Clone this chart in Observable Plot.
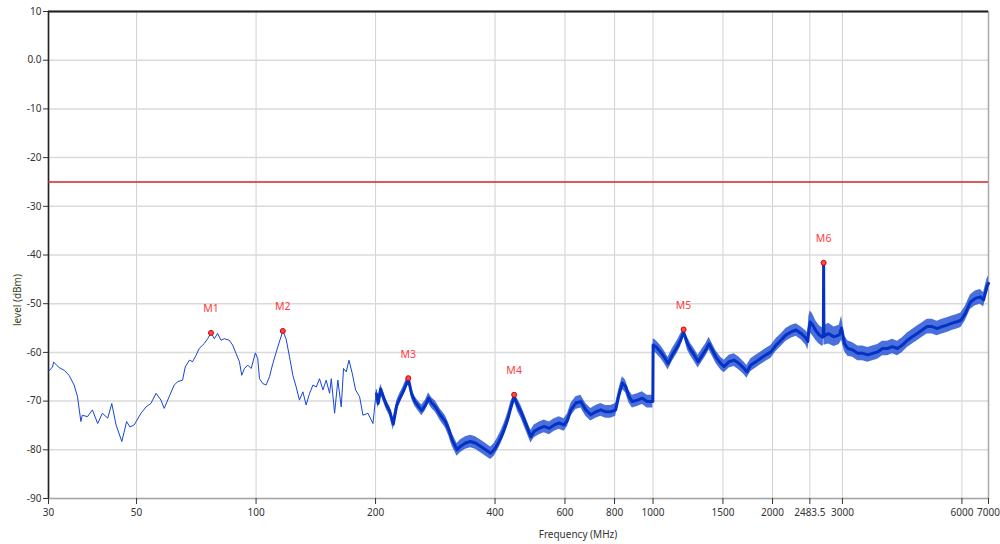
<!DOCTYPE html>
<html><head><meta charset="utf-8">
<script src="https://cdn.jsdelivr.net/npm/d3@7"></script>
<script src="https://cdn.jsdelivr.net/npm/@observablehq/plot@0.6"></script>
<style>
body{margin:0;background:#fff;}
#wrap{position:relative;width:1000px;height:544px;overflow:hidden;}
.lbl{position:absolute;font-family:"Noto Sans",sans-serif;font-size:10px;white-space:nowrap;}
</style></head>
<body><div id="wrap"></div>
<script>
// ---- data ----
const xTicks = [30, 50, 100, 200, 400, 600, 800, 1000, 1500, 2000, 2483.5, 3000, 6000, 7000];
const yTicks = [10, 0, -10, -20, -30, -40, -50, -60, -70, -80, -90];
const limitLevel = -25;

// thin trace 30–200 MHz
const traceFreq = [30,30.7,30.9,31.9,32.9,33.8,34.8,35.5,36.2,36.5,
  37.6,38.7,39.9,41.0,42.3,43.3,44.4,45.9,47.2,48.1,
  49.3,51.3,52.8,54.3,56.0,57.6,58.7,60.4,62.2,63.5,
  65.3,66.3,67.9,69.2,70.6,71.9,74.0,75.5,77.0,78.5,
  80.0,81.6,83.2,85.6,87.3,89.0,90.8,92.0,93.5,95.3,
  97.2,99.6,101.0,102.0,104.0,106.0,108.1,110.2,113.4,116.8,
  119.0,121.4,123.8,126.2,128.6,131.2,133.7,136.4,139.1,141.8,
  144.5,147.4,150.2,153.2,154.7,157.7,160.7,163.9,166.1,168.7,
  171.4,174.7,178.1,182.3,185.9,191.3,197.0,201];
const traceLevel = [-63.9,-63.0,-62.0,-63.1,-63.7,-64.7,-66.7,-69.1,-74.2,-72.9,
  -73.2,-71.8,-74.6,-72.5,-73.5,-70.5,-74.9,-78.3,-74.2,-75.3,
  -74.9,-72.5,-71.2,-70.5,-68.4,-69.8,-71.5,-69.1,-66.7,-66.0,
  -65.7,-63.0,-61.6,-61.9,-60.6,-59.2,-58.2,-57.2,-56.0,-57.2,
  -56.1,-57.5,-57.2,-57.5,-58.5,-60.2,-61.9,-64.7,-63.3,-62.6,
  -63.3,-60.1,-61.3,-65.4,-66.4,-66.7,-65.0,-62.3,-58.9,-55.6,
  -57.2,-60.9,-64.7,-67.1,-69.8,-68.1,-70.8,-68.4,-66.7,-67.1,
  -65.4,-67.7,-65.7,-68.4,-65.4,-72.5,-65.7,-71.2,-63.3,-64.0,
  -61.6,-64.3,-67.7,-69.1,-72.9,-72.5,-74.6,-67.7];

// noisy band 200–7000 MHz (low / high envelope of the noise)
const bandFreq = [201,203,206,209,213,217,221.6,226,230,235,
  239.5,242,246.5,251,256,261.5,267,272,277,283,
  291,300,306,312,321,327,337,347,357,368,
  379,390,398,405,413,421.5,430,438,446.8,455.6,
  465,474,483,492.5,502,517,532,548,564,580,
  597,609,621,639,658,677,697,717.5,738.6,760,
  782.5,805,821,837,853,870,887,913,940,967,
  999,1000.5,1016,1045,1066,1091,1119,1152,1174,1194,
  1221,1245,1269,1299,1332,1358,1384,1411,1439,1482,
  1511,1555,1601,1648,1697,1723,1764,1816,1870,1925,
  1982,2041,2101,2163,2227,2293,2361,2430,2454,2470,
  2489,2520,2570,2621,2674,2686,2690,2695,2712,2766,
  2860,2945,2985,3036,3095,3186,3279,3374,3473,3574,
  3679,3786,3896,4010,4127,4248,4372,4499,4631,4766,
  4905,5048,5196,5347,5503,5664,5829,5966,6121,6300,
  6484,6673,6804,6935,7000];
const bandLow = [-69.5,-71.5,-68.5,-70,-71.8,-73,-76,-72,-70.5,-69,
  -67.3,-66.3,-69.5,-71,-72,-73,-72,-70.5,-71.5,-72.3,
  -74,-75.5,-77.2,-79.3,-81.3,-80.6,-79.9,-79.6,-79.9,-80.6,
  -81.3,-82,-81.3,-80.3,-78.9,-77.2,-75.2,-72.8,-69.8,-72.1,
  -73.5,-75.2,-76.9,-78.6,-77.5,-76.9,-76.5,-76.9,-76.2,-75.8,
  -76.2,-75.2,-73.1,-71.7,-71.4,-73.1,-74.1,-73.5,-73.1,-73.5,
  -73.5,-73.1,-70,-67.6,-68.3,-70.4,-71.4,-71.1,-70.7,-71.4,
  -71.4,-59.8,-60.1,-61.2,-62.2,-63.6,-61.8,-60.1,-58.8,-56.4,
  -59.5,-60.8,-61.8,-63.2,-61.8,-60.8,-59.5,-60.8,-62.2,-63.6,
  -64.2,-63.2,-62.9,-63.6,-64.6,-65.3,-63.9,-63.2,-62.5,-61.8,
  -61.2,-59.8,-58.8,-57.7,-57.1,-56.7,-57.4,-58.6,-59.5,-58,
  -56,-56.5,-57.5,-58.3,-58.8,-58.5,-42.2,-58.5,-58.5,-58.3,
  -58.8,-58.4,-57.5,-59.8,-60.8,-61,-61.7,-61.7,-62,-61.7,
  -61.4,-60.7,-60.7,-60.3,-60.7,-60,-59,-58.3,-57.6,-56.9,
  -56.2,-56.2,-56.6,-56.2,-55.9,-55.5,-55.2,-54.9,-53.5,-51.2,
  -50.4,-50.1,-50.7,-48,-47.3];
const bandHigh = [-67.5,-69.5,-66.5,-68,-69.8,-71,-73.5,-70,-68.5,-67,
  -65.3,-64.8,-67.5,-69,-70,-70.8,-69.8,-68.3,-69.3,-70,
  -71.6,-73,-74.6,-76.7,-78.7,-78,-77.3,-77,-77.3,-78,
  -78.7,-79.4,-78.7,-77.7,-76.3,-74.6,-72.6,-70.2,-68.5,-69.5,
  -70.9,-72.6,-74.3,-76,-74.9,-74.3,-73.9,-74.3,-73.6,-73.2,
  -73.6,-72.6,-70.5,-69.1,-68.8,-70.5,-71.5,-70.9,-70.5,-70.9,
  -70.9,-70.5,-67.4,-65,-65.7,-67.8,-68.8,-68.5,-68.1,-68.8,
  -68.8,-57.2,-57.5,-58.6,-59.6,-61,-59.2,-57.5,-56.2,-55.3,
  -56.9,-58.2,-59.2,-60.6,-59.2,-58.2,-56.9,-58.2,-59.6,-61,
  -61.6,-60.6,-60.3,-61,-62,-62.7,-61.3,-60.6,-59.9,-59.2,
  -58.6,-57.2,-56.2,-55.1,-54.5,-54.1,-54.8,-55.6,-56,-52.5,
  -51.5,-52,-53.5,-54.5,-55,-55,-41.4,-55,-54.5,-54,
  -54.8,-54.4,-52.5,-56.6,-57.6,-58,-58.7,-58.7,-59,-58.7,
  -58.4,-57.7,-57.7,-57.3,-57.7,-57,-56,-55.3,-54.6,-53.9,
  -53.2,-53.2,-53.6,-53.2,-52.9,-52.5,-52.2,-51.9,-50.5,-48.2,
  -47.4,-47.1,-47.7,-45,-44.3];

const markerNames = ["M1", "M2", "M3", "M4", "M5", "M6"];
const markerFreq  = [77.0, 116.8, 241.8, 446.8, 1194, 2690];
const markerLevel = [-56.0, -55.6, -65.3, -68.7, -55.3, -41.6];

// ---- build tables ----
const trace = traceFreq.map((f, i) => ({f, v: traceLevel[i]}));
const band = bandFreq.map((f, i) => ({f, lo: bandLow[i], hi: bandHigh[i]}));
const markers = markerNames.map((n, i) => ({n, f: markerFreq[i], v: markerLevel[i]}));

const chart = Plot.plot({
  width: 1000, height: 544,
  marginLeft: 48, marginRight: 12, marginTop: 11, marginBottom: 46,
  style: {fontFamily: "'Noto Sans', sans-serif", fontSize: "10px", color: "#333", background: "#fff"},
  x: {type: "log", domain: [30, 7000]},
  y: {domain: [-90, 10]},
  marks: [
    Plot.gridX(xTicks, {stroke: "#d2d2d2", strokeOpacity: 1}),
    Plot.gridY(yTicks, {stroke: "#dadada", strokeOpacity: 1, strokeWidth: 1.5}),
    Plot.frame({stroke: "#a8a8a8", strokeWidth: 1.5}),
    Plot.ruleY([yTicks[0]], {stroke: "#222", strokeWidth: 2}),
    Plot.ruleX([xTicks[0]], {stroke: "#222", strokeWidth: 1.5}),
    Plot.ruleY([limitLevel], {stroke: "#d91f1f", strokeWidth: 1.5}),
    // noise envelope (lighter) and its dense core (darker)
    Plot.areaY(band, {x: "f", y1: "lo", y2: "hi", fill: "#1c4cd4", fillOpacity: 0.8, curve: "linear"}),
    Plot.line(band, {x: "f", y: d => (d.lo + d.hi) / 2, stroke: "#0632c4", strokeWidth: 3, curve: "linear"}),
    Plot.line(trace, {x: "f", y: "v", stroke: "#1646d4", strokeWidth: 1}),
    Plot.dot(markers, {x: "f", y: "v", r: 2.5, fill: "#ff4a4a", stroke: "#d10000", strokeWidth: 1}),
    Plot.text(markers, {x: "f", y: "v", text: "n", dy: -24, fill: "#ff3c3c", fontSize: 10.5}),
    Plot.axisX(xTicks, {tickSize: 6, tickFormat: () => "", label: null}),
    Plot.text(xTicks, {x: d => d, text: d => String(d), frameAnchor: "bottom", dy: 17, fill: "#333"}),
    Plot.axisY(yTicks, {tickSize: 5, tickPadding: 2, tickFormat: d => d === 0 ? "0.0" : String(d), label: null})
  ]
});
const wrap = document.getElementById("wrap");
wrap.appendChild(chart);

const yl = document.createElement("div");
yl.className = "lbl";
yl.textContent = "level (dBm)";
yl.style.color = "#3c4420";
yl.style.left = "17px"; yl.style.top = "300px";
yl.style.transform = "translate(-50%,-50%) rotate(-90deg)";
wrap.appendChild(yl);

const xl = document.createElement("div");
xl.className = "lbl";
xl.textContent = "Frequency (MHz)";
xl.style.color = "#333";
xl.style.left = "578px"; xl.style.top = "534px";
xl.style.transform = "translate(-50%,-50%)";
wrap.appendChild(xl);
</script>
</body></html>
